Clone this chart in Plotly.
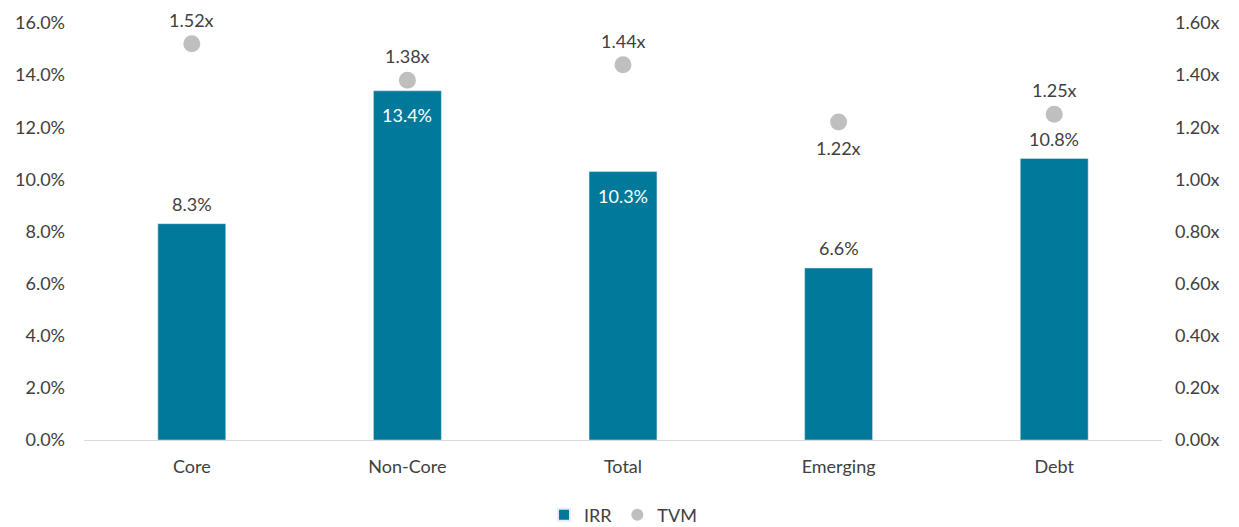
import plotly.graph_objects as go

categories = ["Core", "Non-Core", "Total", "Emerging", "Debt"]
irr = [0.083, 0.134, 0.103, 0.066, 0.108]
tvm = [1.52, 1.38, 1.44, 1.22, 1.25]
irr_label_inside = [False, True, True, False, False]
tvm_label_below = [False, False, False, True, False]

font_family = "Lato, Open Sans, sans-serif"
text_grey = "#404040"

fig = go.Figure()

fig.add_trace(go.Bar(
    x=categories,
    y=irr,
    name="IRR",
    marker_color="#00799A",
    width=0.315,
))

fig.add_trace(go.Scatter(
    x=categories,
    y=tvm,
    name="TVM",
    mode="markers",
    yaxis="y2",
    marker=dict(color="#BFBFBF", size=17),
    cliponaxis=False,
))

# data labels as annotations so the offsets can match the original
for cat, v, inside in zip(categories, irr, irr_label_inside):
    fig.add_annotation(
        x=cat, y=v, yref="y", text=f"{v*100:.1f}%", showarrow=False,
        yshift=-24 if inside else 20,
        font=dict(color="white" if inside else text_grey, size=18, family=font_family),
    )

for cat, v, below in zip(categories, tvm, tvm_label_below):
    fig.add_annotation(
        x=cat, y=v, yref="y2", text=f"{v:.2f}x", showarrow=False,
        yshift=-26 if below else 24,
        font=dict(color=text_grey, size=18, family=font_family),
    )

# page body adds an 8px offset, margins compensate for it
fig.update_layout(
    width=1239,
    height=527,
    margin=dict(l=76, r=85, t=15, b=95, autoexpand=False),
    plot_bgcolor="white",
    paper_bgcolor="white",
    font=dict(family=font_family, size=18, color=text_grey),
    showlegend=True,
    legend=dict(orientation="h", x=0.5, xanchor="center", yref="container",
                y=0.038, yanchor="middle",
                font=dict(size=18, color=text_grey), itemsizing="constant",
                traceorder="normal", itemwidth=30),
    bargap=0.685,
    xaxis=dict(showline=True, linecolor="#D9D9D9", linewidth=1, ticks="",
               automargin=False, ticklabelstandoff=10,
               tickfont=dict(size=18, color=text_grey)),
    yaxis=dict(range=[0, 0.16], dtick=0.02, tickformat=".1%", showgrid=False,
               zeroline=False, ticks="", automargin=False, ticklabelstandoff=18,
               tickfont=dict(size=18, color=text_grey)),
    yaxis2=dict(range=[0, 1.6], dtick=0.2, tickformat=".2f", ticksuffix="x",
                overlaying="y", side="right", showgrid=False, zeroline=False,
                automargin=False, ticklabelstandoff=12,
                tickfont=dict(size=18, color=text_grey)),
)

fig.write_html("out.html")
